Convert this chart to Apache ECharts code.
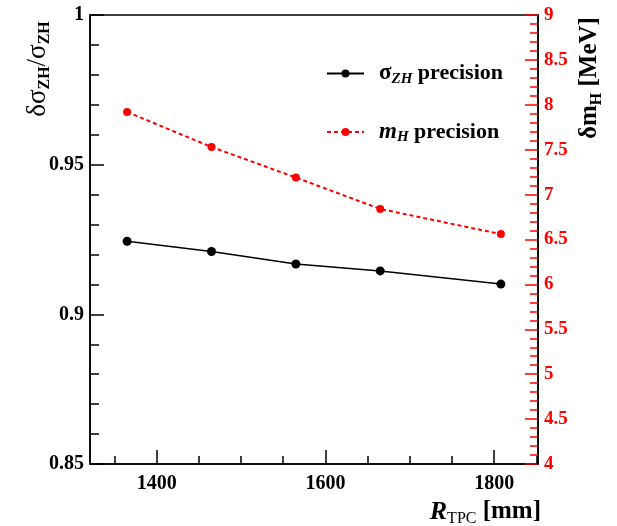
<!DOCTYPE html>
<html>
<head>
<meta charset="utf-8">
<script src="https://cdn.jsdelivr.net/npm/echarts@6/dist/echarts.min.js"></script>
<style>
  html, body { margin: 0; padding: 0; background: #fff; }
  #chart { width: 617px; height: 526px; }
</style>
</head>
<body>
<div id="chart"></div>
<script>
// R_TPC 值 (mm)
const rTpc = [1365, 1465, 1565, 1665, 1808];
// sigma_ZH 相对精度 (左轴)
const sigmaPrecision = [0.9244, 0.9210, 0.9168, 0.9145, 0.9101];
// m_H 精度 MeV (右轴)
const massPrecision = [7.92, 7.53, 7.19, 6.84, 6.56];
// 刻度
const xMajorTicks = [1400, 1600, 1800];
const xMinorTicks = [1350, 1450, 1500, 1550, 1650, 1700, 1750, 1850];

const serif = '"Liberation Serif", "DejaVu Serif", serif';

// 把数组拼成 [x, y]
function pairs(xs, ys) {
    return xs.map((x, i) => [x, ys[i]]);
}

const chart = echarts.init(document.getElementById('chart'));

const subStyle = {
    fontFamily: serif, fontWeight: 'bold', fontStyle: 'italic',
    fontSize: 15, lineHeight: 15, verticalAlign: 'bottom', color: '#000'
};

const option = {
    animation: false,
    backgroundColor: '#fff',
    grid: {
        left: 90, right: 79, top: 15, bottom: 62,
        show: true, borderColor: '#000', borderWidth: 1.5, backgroundColor: 'transparent'
    },
    legend: {
        orient: 'vertical',
        left: 321,
        top: 57,
        itemGap: 34,
        itemWidth: 37,
        itemHeight: 10,
        data: ['sigma', 'mass'],
        formatter: function (name) {
            if (name === 'sigma') {
                return '{g|σ}{sub|ZH}{t| precision}';
            }
            return '{m|m}{sub|H}{t| precision}';
        },
        textStyle: {
            padding: [0, 0, 0, 10],
            rich: {
                g: { fontFamily: serif, fontWeight: 'bold', fontSize: 23, lineHeight: 26, color: '#000' },
                m: { fontFamily: serif, fontWeight: 'bold', fontStyle: 'italic', fontSize: 23, lineHeight: 26, color: '#000' },
                t: { fontFamily: serif, fontWeight: 'bold', fontSize: 22, lineHeight: 26, color: '#000' },
                sub: subStyle
            }
        }
    },
    xAxis: [
        {
            type: 'value', min: 1321, max: 1852,
            axisLine: { show: true, onZero: false, lineStyle: { color: '#000', width: 1.5 } },
            axisTick: { show: true, inside: true, length: 14, customValues: xMajorTicks, lineStyle: { color: '#000', width: 1.5 } },
            axisLabel: {
                customValues: xMajorTicks, margin: 10,
                fontFamily: serif, fontWeight: 'bold', fontSize: 20, color: '#000',
                formatter: function (v) { return String(v); }
            },
            splitLine: { show: false }
        },
        {
            type: 'value', min: 1321, max: 1852, position: 'bottom',
            axisLine: { show: false },
            axisTick: { show: true, inside: true, length: 8, customValues: xMinorTicks, lineStyle: { color: '#000', width: 1.5 } },
            axisLabel: { show: false },
            splitLine: { show: false }
        }
    ],
    yAxis: [
        {
            type: 'value', min: 0.85, max: 1, interval: 0.05, position: 'left',
            axisLine: { show: true, onZero: false, lineStyle: { color: '#000', width: 1.5 } },
            axisTick: { show: true, inside: true, length: 14, lineStyle: { color: '#000', width: 1.5 } },
            minorTick: { show: true, splitNumber: 5, length: 9, lineStyle: { color: '#000', width: 1.5 } },
            axisLabel: {
                margin: 6,
                fontFamily: serif, fontWeight: 'bold', fontSize: 20, color: '#000',
                formatter: function (v) { return String(Number(v.toFixed(2))); }
            },
            splitLine: { show: false },
            minorSplitLine: { show: false }
        },
        {
            type: 'value', min: 4, max: 9, interval: 0.5, position: 'right',
            axisLine: { show: true, onZero: false, lineStyle: { color: '#000', width: 1.5 } },
            axisTick: { show: true, inside: true, length: 13, lineStyle: { color: '#ff0000', width: 1.5 } },
            minorTick: { show: true, splitNumber: 5, length: 8, lineStyle: { color: '#ff0000', width: 1.5 } },
            axisLabel: {
                margin: 6,
                fontFamily: serif, fontWeight: 'bold', fontSize: 19, color: '#ff0000'
            },
            splitLine: { show: false },
            minorSplitLine: { show: false }
        }
    ],
    series: [
        {
            name: 'sigma',
            type: 'line',
            xAxisIndex: 0,
            yAxisIndex: 0,
            data: pairs(rTpc, sigmaPrecision),
            symbol: 'circle',
            symbolSize: 9,
            itemStyle: { color: '#000' },
            lineStyle: { color: '#000', width: 1.5 }
        },
        {
            name: 'mass',
            type: 'line',
            xAxisIndex: 0,
            yAxisIndex: 1,
            data: pairs(rTpc, massPrecision),
            symbol: 'circle',
            symbolSize: 8,
            itemStyle: { color: '#ff0000' },
            lineStyle: { color: '#ff0000', width: 2, type: [4, 3] }
        }
    ],
    graphic: [
        {
            // 左轴标题
            type: 'text',
            x: 38, y: 69,
            rotation: Math.PI / 2,
            style: {
                text: '{d|δσ}{s|ZH}{d|/σ}{s|ZH}',
                align: 'center',
                verticalAlign: 'middle',
                rich: {
                    d: { fontFamily: serif, fontSize: 27, lineHeight: 30, color: '#000' },
                    s: { fontFamily: serif, fontWeight: 'bold', fontSize: 16, lineHeight: 16, verticalAlign: 'bottom', color: '#000' }
                }
            }
        },
        {
            // 右轴标题
            type: 'text',
            x: 590, y: 78,
            rotation: Math.PI / 2,
            style: {
                text: '{d|δm}{s|H}{d| [MeV]}',
                align: 'center',
                verticalAlign: 'middle',
                rich: {
                    d: { fontFamily: serif, fontWeight: 'bold', fontSize: 25, lineHeight: 30, color: '#ff0000' },
                    s: { fontFamily: serif, fontWeight: 'bold', fontSize: 16, lineHeight: 16, verticalAlign: 'bottom', color: '#ff0000' }
                }
            }
        },
        {
            // x轴标题
            type: 'text',
            x: 541, y: 512,
            style: {
                text: '{r|R}{s|TPC}{d| [mm]}',
                align: 'right',
                verticalAlign: 'middle',
                rich: {
                    r: { fontFamily: serif, fontWeight: 'bold', fontStyle: 'italic', fontSize: 26, lineHeight: 30, color: '#000' },
                    s: { fontFamily: serif, fontSize: 16, lineHeight: 16, verticalAlign: 'bottom', color: '#000' },
                    d: { fontFamily: serif, fontWeight: 'bold', fontSize: 25, lineHeight: 30, color: '#000' }
                }
            }
        }
    ]
};

chart.setOption(option);
</script>
</body>
</html>
